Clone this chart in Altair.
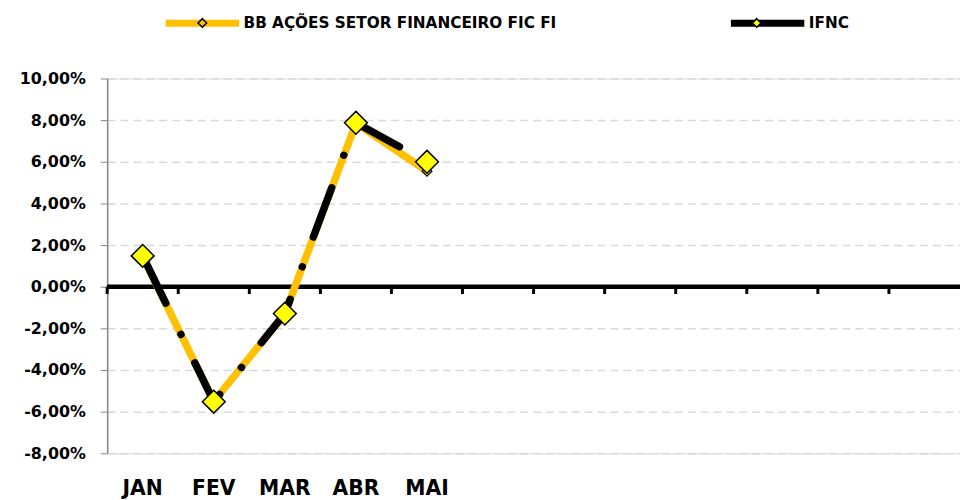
import json
import altair as alt
import pandas as pd

# ---------------- data ----------------
meses = ["JAN", "FEV", "MAR", "ABR", "MAI", "JUN", "JUL", "AGO", "SET", "OUT", "NOV", "DEZ"]
meses_com_dados = ["JAN", "FEV", "MAR", "ABR", "MAI"]
serie_bb = "BB AÇÕES SETOR FINANCEIRO FIC FI"
serie_ifnc = "IFNC"
bb_valores = [1.45, -5.50, -1.30, 7.85, 5.55]
ifnc_valores = [1.48, -5.52, -1.29, 7.87, 6.00]
y_ticks = [-8, -6, -4, -2, 0, 2, 4, 6, 8, 10]

rows = []
for m, v in zip(meses_com_dados, bb_valores):
    rows.append({"mes": m, "serie": serie_bb, "marcador": serie_bb, "valor": v})
for m, v in zip(meses_com_dados, ifnc_valores):
    rows.append({"mes": m, "serie": serie_ifnc, "marcador": serie_ifnc, "valor": v})
df = pd.DataFrame(rows)
df_meses = pd.DataFrame({"mes": meses})
df_zero = pd.DataFrame({"valor": [0]})

FONT = "DejaVu Sans"
ORANGE = "#FFC000"
YELLOW = "#FFFF00"

x_label_expr = f"indexof({json.dumps(meses_com_dados)}, datum.value) >= 0 ? datum.value : ''"
x_scale = alt.Scale(type="band", domain=meses, paddingInner=0, paddingOuter=0)
x_axis = alt.Axis(title=None, domain=False, ticks=False, grid=False, labelAngle=0, labelFont=FONT,
                  labelFontWeight="bold", labelFontSize=20.5, labelColor="black",
                  labelPadding=26, labelExpr=x_label_expr)
x_enc = alt.X("mes:N", sort=meses, scale=x_scale, axis=x_axis)

y_label_expr = "(datum.value < 0 ? '-' : '') + replace(format(abs(datum.value), '.2f'), '.', ',') + '%'"
y_scale = alt.Scale(domain=[-8, 10], nice=False, zero=False)
y_enc = alt.Y(
    "valor:Q", scale=y_scale,
    axis=alt.Axis(title=None, values=y_ticks, labelExpr=y_label_expr, grid=True,
                  gridDash=[8, 5], gridColor="#D9D9D9", gridWidth=1.5,
                  domainColor="#868686", domainWidth=1.5, tickColor="#868686", tickSize=7,
                  labelFont=FONT, labelFontSize=16, labelFontWeight="bold", labelColor="black",
                  labelPadding=15),
)

leg_common = dict(orient="none", legendX=55.5, legendY=-96.5, direction="horizontal", title=None,
                  labelFont=FONT, labelFontSize=15.4, labelFontWeight="bold", labelColor="black",
                  labelOffset=1, padding=0, labelLimit=0)

zero_line = alt.Chart(df_zero).mark_rule(color="black", strokeWidth=4.5).encode(y=y_enc)
zero_ticks = alt.Chart(df_meses).mark_rule(color="black", strokeWidth=3).encode(
    x=alt.X("mes:N", sort=meses, scale=x_scale, bandPosition=0, axis=x_axis),
    y=alt.datum(0), y2=alt.datum(-0.35),
)

color_enc = alt.Color(
    "serie:N", scale=alt.Scale(domain=[serie_bb, serie_ifnc], range=[ORANGE, "#000000"]),
    legend=alt.Legend(symbolType="stroke", symbolSize=5476, symbolStrokeWidth=7,
                      columnPadding=161, **leg_common),
)
fill_enc = alt.Fill(
    "marcador:N", scale=alt.Scale(range=[ORANGE, YELLOW]),
    legend=alt.Legend(symbolType="M0,-0.11L0.11,0L0,0.11L-0.11,0Z", symbolSize=6320,
                      symbolStrokeColor="black", symbolStrokeWidth=1.5, labelExpr="''",
                      columnPadding=477, **leg_common),
)

base = alt.Chart(df)
bb_line = base.transform_filter(alt.datum.serie == serie_bb).mark_line(
    strokeWidth=7.5, strokeJoin="round", strokeCap="round").encode(x=x_enc, y=y_enc, color=color_enc)
bb_pts = base.transform_filter(alt.datum.serie == serie_bb).mark_point(
    shape="diamond", filled=True, size=100, stroke="black", strokeWidth=1.2, opacity=1).encode(
    x=x_enc, y=y_enc, fill=fill_enc)
ifnc_line = base.transform_filter(alt.datum.serie == serie_ifnc).mark_line(
    strokeWidth=7.5, strokeDash=[53, 35, 0.01, 32], strokeJoin="round", strokeCap="round").encode(
    x=x_enc, y=y_enc, color=color_enc)
ifnc_pts = base.transform_filter(alt.datum.serie == serie_ifnc).mark_point(
    shape="diamond", filled=True, size=529, stroke="black", strokeWidth=1.5, opacity=1).encode(
    x=x_enc, y=y_enc, fill=fill_enc)

chart = alt.layer(zero_line, zero_ticks, bb_line, bb_pts, ifnc_line, ifnc_pts).properties(
    width=860, height=378,
    autosize=alt.AutoSizeParams(type="none"),
    padding={"left": 100, "top": 69, "right": 0, "bottom": 44},
).configure_view(stroke=None).configure(background="white")

chart.save("out.html", embed_options={"renderer": "svg", "actions": False})
